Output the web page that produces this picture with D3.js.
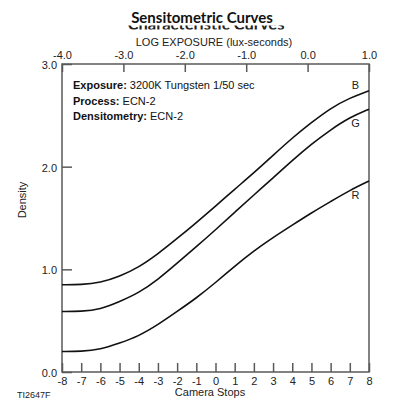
<!DOCTYPE html>
<html>
<head>
<meta charset="utf-8">
<script src="https://cdn.jsdelivr.net/npm/d3@7"></script>
<style>
  body { margin: 0; background: #fff; }
  svg { display: block; font-family: "Liberation Sans", Arial, sans-serif; }
</style>
</head>
<body>
<svg id="chart" width="399" height="413"></svg>
<script>
// camera stops and density readings for each layer
const stops = [-8, -7, -6, -5, -4, -3, -2, -1, 0, 1, 2, 3, 4, 5, 6, 7, 8];
const blue  = [0.85, 0.85, 0.87, 0.93, 1.02, 1.15, 1.30, 1.455, 1.615, 1.78, 1.94, 2.11, 2.28, 2.43, 2.57, 2.67, 2.74];
const green = [0.59, 0.59, 0.61, 0.685, 0.77, 0.90, 1.06, 1.22, 1.385, 1.555, 1.725, 1.89, 2.06, 2.22, 2.36, 2.48, 2.56];
const red   = [0.20, 0.20, 0.22, 0.28, 0.35, 0.46, 0.59, 0.72, 0.87, 1.03, 1.18, 1.31, 1.43, 1.55, 1.66, 1.77, 1.86];
const seriesNames = ["B", "G", "R"];
const logTicks = [-4.0, -3.0, -2.0, -1.0, 0.0, 1.0];
const densityTicks = [0, 1, 2, 3];
const notes = [
  ["Exposure:", " 3200K Tungsten 1/50 sec"],
  ["Process:", " ECN-2"],
  ["Densitometry:", " ECN-2"]
];

const svg = d3.select("#chart");
const m = { left: 62, right: 369, top: 64, bottom: 372 };

const x = d3.scaleLinear().domain([-8, 8]).range([m.left, m.right]);
const xLog = d3.scaleLinear().domain([-4, 1]).range([m.left, m.right]);
const y = d3.scaleLinear().domain([0, 3]).range([m.bottom, m.top]);

const frameColor = "#5a5a5a";
const fmt1 = d => d.toFixed(1);

// title (with the old title peeking out below it)
const ghostClip = svg.append("defs").append("clipPath").attr("id", "ghost");
ghostClip.append("rect").attr("x", 0).attr("y", 25.5).attr("width", 399).attr("height", 4);
svg.append("text")
  .attr("x", 206).attr("y", 30)
  .attr("text-anchor", "middle")
  .attr("clip-path", "url(#ghost)")
  .style("font-family", "Lato, sans-serif")
  .style("font-weight", 700).style("font-size", "16.5px")
  .attr("fill", "#222")
  .text("Characteristic Curves");

svg.append("text")
  .attr("x", 202).attr("y", 23)
  .attr("text-anchor", "middle")
  .style("font-family", "Lato, sans-serif")
  .style("font-weight", 700).style("font-size", "15px")
  .attr("fill", "#111")
  .text("Sensitometric Curves");

svg.append("text")
  .attr("x", 214).attr("y", 46)
  .attr("text-anchor", "middle")
  .style("font-size", "11px").attr("fill", "#222")
  .text("LOG EXPOSURE (lux-seconds)");

// axes
const topAxis = svg.append("g")
  .attr("transform", `translate(0,${m.top})`)
  .call(d3.axisTop(xLog).tickValues(logTicks).tickFormat(fmt1).tickSizeInner(-8).tickSizeOuter(0).tickPadding(5));

const bottomAxis = svg.append("g")
  .attr("transform", `translate(0,${m.bottom})`)
  .call(d3.axisBottom(x).tickValues(stops).tickFormat(d => String(d)).tickSizeInner(-9).tickSizeOuter(0).tickPadding(5));

const leftAxis = svg.append("g")
  .attr("transform", `translate(${m.left},0)`)
  .call(d3.axisLeft(y).tickValues(densityTicks).tickFormat(fmt1).tickSizeInner(-10).tickSizeOuter(0).tickPadding(5));

[topAxis, bottomAxis, leftAxis].forEach(a => {
  a.select(".domain").remove();
  a.selectAll(".tick line").attr("stroke", frameColor).attr("stroke-width", 1.5);
  a.selectAll(".tick text").attr("fill", "#222").style("font-size", "11px").style("font-family", "Liberation Sans, Arial, sans-serif");
});
topAxis.selectAll(".tick text").attr("dy", "0");
leftAxis.selectAll(".tick text").attr("dy", "0.4em");

// frame
svg.append("rect")
  .attr("x", m.left).attr("y", m.top)
  .attr("width", m.right - m.left).attr("height", m.bottom - m.top)
  .attr("fill", "none").attr("stroke", frameColor).attr("stroke-width", 1.5);

svg.append("text")
  .attr("transform", `translate(26,200) rotate(-90)`)
  .attr("text-anchor", "middle")
  .style("font-size", "11px").attr("fill", "#222")
  .text("Density");

svg.append("text")
  .attr("x", 210).attr("y", 396)
  .attr("text-anchor", "middle")
  .style("font-size", "11px").attr("fill", "#222")
  .text("Camera Stops");

svg.append("text")
  .attr("x", 17).attr("y", 398)
  .style("font-size", "9px").attr("fill", "#222")
  .text("TI2647F");

// notes
const note = svg.append("g");
notes.forEach((n, i) => {
  const t = note.append("text")
    .attr("x", 73).attr("y", 89 + i * 15.5)
    .style("font-size", "11px").attr("fill", "#111");
  t.append("tspan").style("font-weight", "bold").text(n[0]);
  t.append("tspan").text(n[1]);
});

// curves
const series = [blue, green, red];
const line = d3.line()
  .x((d, i) => x(stops[i]))
  .y(d => y(d))
  .curve(d3.curveBasis);

svg.append("g").selectAll("path").data(series).join("path")
  .attr("d", line)
  .attr("fill", "none").attr("stroke", "#111").attr("stroke-width", 1.6);

// curve labels just under the right end
svg.append("g").selectAll("text").data(series).join("text")
  .attr("x", x(7.5) - 4)
  .attr("y", (d, i) => y(d[d.length - 1]) + (i === 0 ? -2 : 18))
  .attr("text-anchor", "middle")
  .style("font-size", "11px").attr("fill", "#222")
  .text((d, i) => seriesNames[i]);
</script>
</body>
</html>
